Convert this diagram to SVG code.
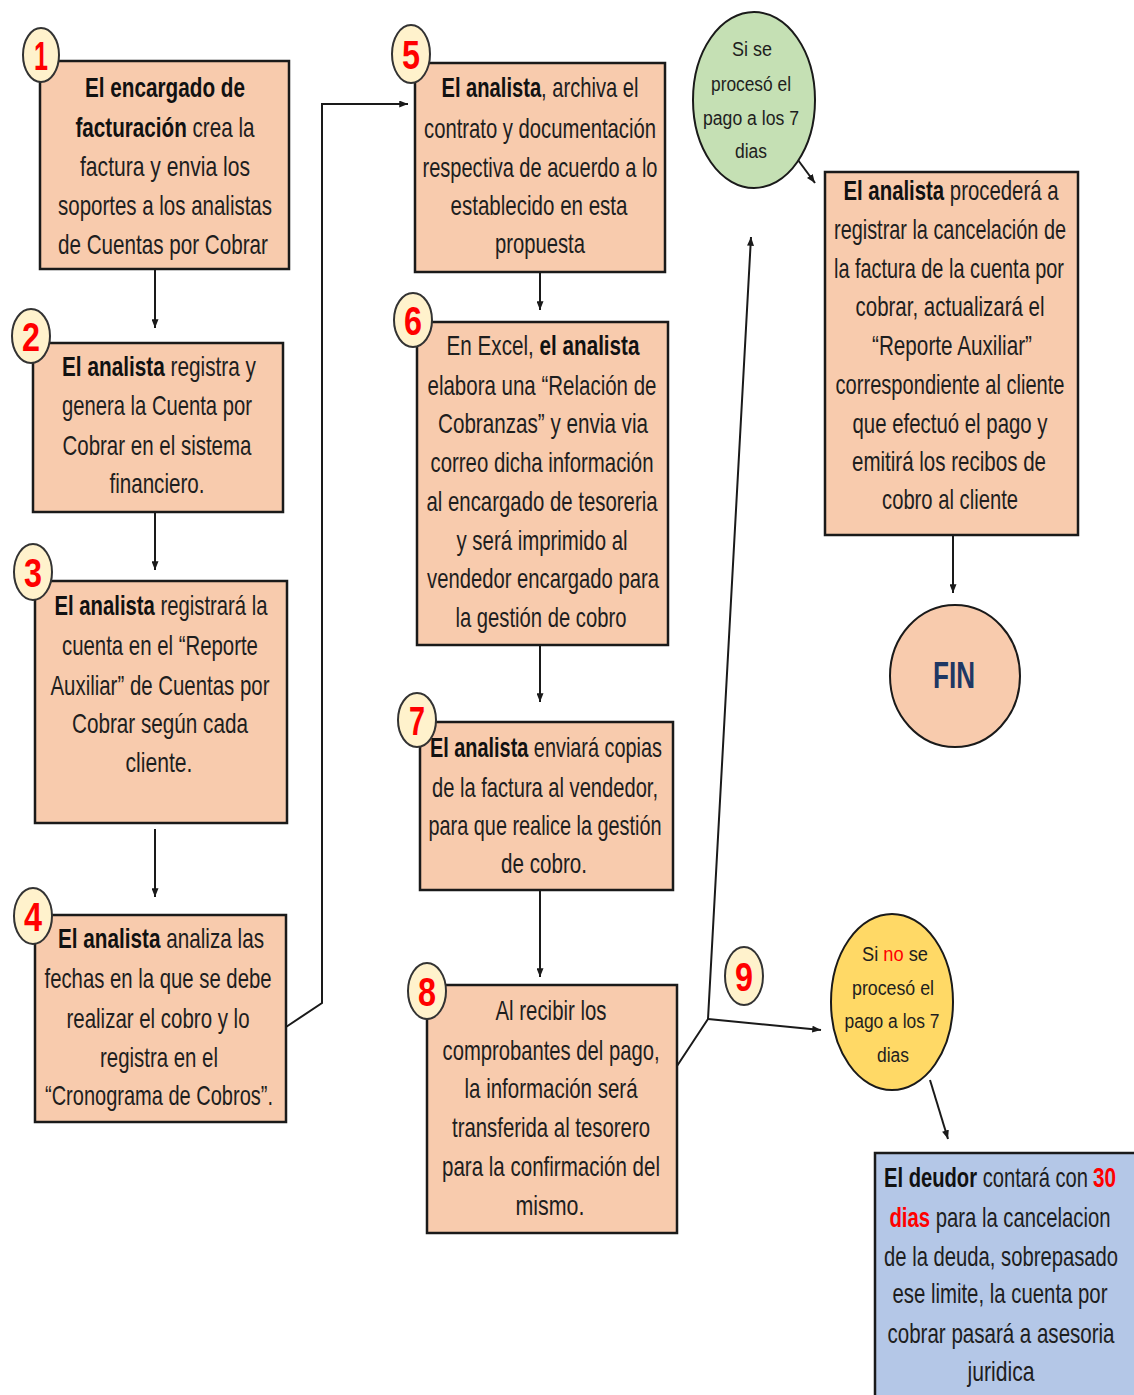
<svg xmlns="http://www.w3.org/2000/svg" width="1134" height="1395" viewBox="0 0 1134 1395">
<defs>
<style>
.box{fill:#F8CBAD;stroke:#1a1a1a;stroke-width:2.5}
.num{fill:#FFF2CC;stroke:#333;stroke-width:2}
.d{font-family:"Liberation Sans",Arial,sans-serif;font-weight:bold;font-size:40px;fill:#FF0000;text-anchor:middle}
.t{font-family:"Liberation Sans",Arial,sans-serif;font-size:28px;fill:#1e1e1e;text-anchor:middle}
.s{font-family:"Liberation Sans",Arial,sans-serif;font-size:20px;fill:#1e1e1e;text-anchor:middle}
.st{text-anchor:start}
.b{font-weight:bold;fill:#111}
.r{fill:#FF0000;font-weight:bold}
.rn{fill:#FF0000}
.c{fill:none;stroke:#1a1a1a;stroke-width:2}
</style>
<marker id="ah" viewBox="0 0 10 8" refX="10" refY="4" markerWidth="9" markerHeight="7" markerUnits="userSpaceOnUse" orient="auto"><path d="M0,0 L10,4 L0,8 z" fill="#1a1a1a"/></marker>
</defs>
<rect width="1134" height="1395" fill="#fff"/>

<g id="connectors">
<line class="c" x1="155" y1="269" x2="155" y2="328" marker-end="url(#ah)"/>
<line class="c" x1="155" y1="512" x2="155" y2="570" marker-end="url(#ah)"/>
<line class="c" x1="155" y1="829" x2="155" y2="897" marker-end="url(#ah)"/>
<polyline class="c" points="286,1027 322,1003 322,104 408,104" marker-end="url(#ah)"/>
<line class="c" x1="540" y1="272" x2="540" y2="310" marker-end="url(#ah)"/>
<line class="c" x1="540" y1="645" x2="540" y2="702" marker-end="url(#ah)"/>
<line class="c" x1="540" y1="890" x2="540" y2="977" marker-end="url(#ah)"/>
<polyline class="c" points="677,1066 708,1019 751,237" marker-end="url(#ah)"/>
<line class="c" x1="708" y1="1019" x2="821" y2="1030" marker-end="url(#ah)"/>
<line class="c" x1="798" y1="160" x2="815" y2="183" marker-end="url(#ah)"/>
<line class="c" x1="953" y1="535" x2="953" y2="593" marker-end="url(#ah)"/>
<line class="c" x1="930" y1="1080" x2="948" y2="1139" marker-end="url(#ah)"/>
</g>

<g id="n1">
<rect class="box" x="40" y="61" width="249" height="208"/>
<g transform="scale(0.75 1)">
<text class="t" x="220" y="97" textLength="213.3" lengthAdjust="spacingAndGlyphs"><tspan class="b">El encargado de</tspan></text>
<text class="t" x="220" y="137" textLength="238.7" lengthAdjust="spacingAndGlyphs"><tspan class="b">facturación</tspan> crea la</text>
<text class="t" x="220" y="176" textLength="226.7" lengthAdjust="spacingAndGlyphs">factura y envia los</text>
<text class="t" x="220" y="215" textLength="285.3" lengthAdjust="spacingAndGlyphs">soportes a los analistas</text>
<text class="t" x="217.3" y="254" textLength="280" lengthAdjust="spacingAndGlyphs">de Cuentas por Cobrar</text>
</g>
<ellipse class="num" cx="41" cy="55" rx="18" ry="27"/>
<g transform="scale(0.6 1)"><text class="d" x="68.3" y="70" textLength="23.3" lengthAdjust="spacingAndGlyphs">1</text></g>
</g>

<g id="n2">
<rect class="box" x="33" y="343" width="250" height="169"/>
<g transform="scale(0.75 1)">
<text class="t" x="212" y="376" textLength="258.7" lengthAdjust="spacingAndGlyphs"><tspan class="b">El analista</tspan> registra y</text>
<text class="t" x="209.3" y="415" textLength="253.3" lengthAdjust="spacingAndGlyphs">genera la Cuenta por</text>
<text class="t" x="209.3" y="455" textLength="252" lengthAdjust="spacingAndGlyphs">Cobrar en el sistema</text>
<text class="t" x="209.3" y="493" textLength="126.7" lengthAdjust="spacingAndGlyphs">financiero.</text>
</g>
<ellipse class="num" cx="31" cy="336" rx="19" ry="27"/>
<g transform="scale(0.6 1)"><text class="d" x="51.7" y="351" textLength="30" lengthAdjust="spacingAndGlyphs">2</text></g>
</g>

<g id="n3">
<rect class="box" x="35" y="581" width="252" height="242"/>
<g transform="scale(0.75 1)">
<text class="t" x="214.7" y="615" textLength="284" lengthAdjust="spacingAndGlyphs"><tspan class="b">El analista</tspan> registrará la</text>
<text class="t" x="213.3" y="655" textLength="261.3" lengthAdjust="spacingAndGlyphs">cuenta en el “Reporte</text>
<text class="t" x="213.3" y="695" textLength="292" lengthAdjust="spacingAndGlyphs">Auxiliar” de Cuentas por</text>
<text class="t" x="213.3" y="733" textLength="234.7" lengthAdjust="spacingAndGlyphs">Cobrar según cada</text>
<text class="t" x="212" y="772" textLength="89.3" lengthAdjust="spacingAndGlyphs">cliente.</text>
</g>
<ellipse class="num" cx="33" cy="572" rx="19" ry="28"/>
<g transform="scale(0.6 1)"><text class="d" x="55" y="587" textLength="30" lengthAdjust="spacingAndGlyphs">3</text></g>
</g>

<g id="n4">
<rect class="box" x="35" y="915" width="251" height="207"/>
<g transform="scale(0.75 1)">
<text class="t" x="214.7" y="948" textLength="274.7" lengthAdjust="spacingAndGlyphs"><tspan class="b">El analista</tspan> analiza las</text>
<text class="t" x="210.7" y="988" textLength="302.7" lengthAdjust="spacingAndGlyphs">fechas en la que se debe</text>
<text class="t" x="210.7" y="1028" textLength="244" lengthAdjust="spacingAndGlyphs">realizar el cobro y lo</text>
<text class="t" x="212" y="1067" textLength="157.3" lengthAdjust="spacingAndGlyphs">registra en el</text>
<text class="t" x="212" y="1105" textLength="304" lengthAdjust="spacingAndGlyphs">“Cronograma de Cobros”.</text>
</g>
<ellipse class="num" cx="33" cy="916" rx="19" ry="28"/>
<g transform="scale(0.6 1)"><text class="d" x="55" y="931" textLength="30" lengthAdjust="spacingAndGlyphs">4</text></g>
</g>

<g id="n5">
<rect class="box" x="415" y="63" width="250" height="209"/>
<g transform="scale(0.75 1)">
<text class="t" x="720" y="97" textLength="262.7" lengthAdjust="spacingAndGlyphs"><tspan class="b">El analista</tspan>, archiva el</text>
<text class="t" x="720" y="138" textLength="309.3" lengthAdjust="spacingAndGlyphs">contrato y documentación</text>
<text class="t" x="720" y="177" textLength="313.3" lengthAdjust="spacingAndGlyphs">respectiva de acuerdo a lo</text>
<text class="t" x="718.7" y="215" textLength="236" lengthAdjust="spacingAndGlyphs">establecido en esta</text>
<text class="t" x="720" y="253" textLength="120" lengthAdjust="spacingAndGlyphs">propuesta</text>
</g>
<ellipse class="num" cx="411" cy="54" rx="19" ry="29"/>
<g transform="scale(0.6 1)"><text class="d" x="685" y="69" textLength="30" lengthAdjust="spacingAndGlyphs">5</text></g>
</g>

<g id="n6">
<rect class="box" x="417" y="322" width="251" height="323"/>
<g transform="scale(0.75 1)">
<text class="t" x="724" y="355" textLength="257.3" lengthAdjust="spacingAndGlyphs">En Excel, <tspan class="b">el analista</tspan></text>
<text class="t" x="722.7" y="395" textLength="305.3" lengthAdjust="spacingAndGlyphs">elabora una “Relación de</text>
<text class="t" x="724" y="433" textLength="280" lengthAdjust="spacingAndGlyphs">Cobranzas” y envia via</text>
<text class="t" x="722.7" y="472" textLength="297.3" lengthAdjust="spacingAndGlyphs">correo dicha información</text>
<text class="t" x="722.7" y="511" textLength="308" lengthAdjust="spacingAndGlyphs">al encargado de tesoreria</text>
<text class="t" x="722.7" y="550" textLength="228" lengthAdjust="spacingAndGlyphs">y será imprimido al</text>
<text class="t" x="724" y="588" textLength="309.3" lengthAdjust="spacingAndGlyphs">vendedor encargado para</text>
<text class="t" x="721.3" y="627" textLength="228" lengthAdjust="spacingAndGlyphs">la gestión de cobro</text>
</g>
<ellipse class="num" cx="413" cy="320" rx="19" ry="27"/>
<g transform="scale(0.6 1)"><text class="d" x="688.3" y="335" textLength="30" lengthAdjust="spacingAndGlyphs">6</text></g>
</g>

<g id="n7">
<rect class="box" x="420" y="722" width="253" height="168"/>
<g transform="scale(0.75 1)">
<text class="t" x="728" y="757" textLength="309.3" lengthAdjust="spacingAndGlyphs"><tspan class="b">El analista</tspan> enviará copias</text>
<text class="t" x="726.7" y="797" textLength="301.3" lengthAdjust="spacingAndGlyphs">de la factura al vendedor,</text>
<text class="t" x="726.7" y="835" textLength="310.7" lengthAdjust="spacingAndGlyphs">para que realice la gestión</text>
<text class="t" x="725.3" y="873" textLength="114.7" lengthAdjust="spacingAndGlyphs">de cobro.</text>
</g>
<ellipse class="num" cx="417" cy="720" rx="19" ry="27"/>
<g transform="scale(0.6 1)"><text class="d" x="695" y="735" textLength="26.7" lengthAdjust="spacingAndGlyphs">7</text></g>
</g>

<g id="n8">
<rect class="box" x="427" y="985" width="250" height="248"/>
<g transform="scale(0.75 1)">
<text class="t" x="734.7" y="1020" textLength="148" lengthAdjust="spacingAndGlyphs">Al recibir los</text>
<text class="t" x="734.7" y="1060" textLength="289.3" lengthAdjust="spacingAndGlyphs">comprobantes del pago,</text>
<text class="t" x="734.7" y="1098" textLength="230.7" lengthAdjust="spacingAndGlyphs">la información será</text>
<text class="t" x="734.7" y="1137" textLength="264" lengthAdjust="spacingAndGlyphs">transferida al tesorero</text>
<text class="t" x="734.7" y="1176" textLength="290.7" lengthAdjust="spacingAndGlyphs">para la confirmación del</text>
<text class="t" x="733.3" y="1215" textLength="92" lengthAdjust="spacingAndGlyphs">mismo.</text>
</g>
<ellipse class="num" cx="427" cy="991" rx="19" ry="28"/>
<g transform="scale(0.6 1)"><text class="d" x="711.7" y="1006" textLength="30" lengthAdjust="spacingAndGlyphs">8</text></g>
</g>

<g id="n9">
<ellipse class="num" cx="744" cy="976" rx="19" ry="29"/>
<g transform="scale(0.6 1)"><text class="d" x="1240" y="991" textLength="30" lengthAdjust="spacingAndGlyphs">9</text></g>
</g>

<g id="si">
<ellipse cx="754" cy="100" rx="61" ry="88" fill="#C5E0B4" stroke="#1a1a1a" stroke-width="2"/>
<g transform="scale(0.8 1)">
<text class="s" x="940" y="56" textLength="50" lengthAdjust="spacingAndGlyphs">Si se</text>
<text class="s" x="938.75" y="91" textLength="100" lengthAdjust="spacingAndGlyphs">procesó  el</text>
<text class="s" x="938.75" y="125" textLength="120" lengthAdjust="spacingAndGlyphs">pago  a los 7</text>
<text class="s" x="938.75" y="158" textLength="40" lengthAdjust="spacingAndGlyphs">dias</text>
</g>
</g>

<g id="registrar">
<rect class="box" x="825" y="172" width="253" height="363"/>
<g transform="scale(0.75 1)">
<text class="t" x="1268" y="200" textLength="286.7" lengthAdjust="spacingAndGlyphs"><tspan class="b">El analista</tspan> procederá a</text>
<text class="t" x="1266.7" y="239" textLength="309.3" lengthAdjust="spacingAndGlyphs">registrar la cancelación de</text>
<text class="t" x="1265.3" y="278" textLength="306.7" lengthAdjust="spacingAndGlyphs">la factura de la cuenta por</text>
<text class="t" x="1266.7" y="316" textLength="252" lengthAdjust="spacingAndGlyphs">cobrar, actualizará el</text>
<text class="t" x="1269.3" y="355" textLength="213.3" lengthAdjust="spacingAndGlyphs">“Reporte Auxiliar”</text>
<text class="t" x="1266.7" y="394" textLength="305.3" lengthAdjust="spacingAndGlyphs">correspondiente al cliente</text>
<text class="t" x="1266.7" y="433" textLength="260" lengthAdjust="spacingAndGlyphs">que efectuó el pago y</text>
<text class="t" x="1265.3" y="471" textLength="258.7" lengthAdjust="spacingAndGlyphs">emitirá los recibos de</text>
<text class="t" x="1266.7" y="509" textLength="181.3" lengthAdjust="spacingAndGlyphs">cobro al cliente</text>
</g>
</g>

<g id="fin">
<ellipse cx="955" cy="676" rx="65" ry="71" fill="#F8CBAD" stroke="#1a1a1a" stroke-width="2"/>
<g transform="scale(0.6 1)"><text x="1590" y="688" font-family="Liberation Sans, Arial, sans-serif" font-weight="bold" font-size="37" fill="#1F3864" text-anchor="middle" textLength="70" lengthAdjust="spacingAndGlyphs">FIN</text></g>
</g>

<g id="sino">
<ellipse cx="892" cy="1002" rx="61" ry="88" fill="#FFD966" stroke="#1a1a1a" stroke-width="2"/>
<g transform="scale(0.8 1)">
<text class="s" x="1118.75" y="961" textLength="82.5" lengthAdjust="spacingAndGlyphs">Si <tspan class="rn">no</tspan> se</text>
<text class="s" x="1116.25" y="995" textLength="102.5" lengthAdjust="spacingAndGlyphs">procesó  el</text>
<text class="s" x="1115" y="1028" textLength="118.75" lengthAdjust="spacingAndGlyphs">pago  a los 7</text>
<text class="s" x="1116.25" y="1062" textLength="40" lengthAdjust="spacingAndGlyphs">dias</text>
</g>
</g>

<g id="deudor">
<rect x="875" y="1153" width="270" height="260" fill="#B4C7E7" stroke="#1a1a1a" stroke-width="2.5"/>
<g transform="scale(0.75 1)">
<text class="t st" x="1178.7" y="1187" textLength="272" lengthAdjust="spacingAndGlyphs"><tspan class="b">El deudor</tspan> contará con</text>
<text class="t st r" x="1457.3" y="1187" textLength="30.7" lengthAdjust="spacingAndGlyphs">30</text>
<text class="t" x="1333.3" y="1227" textLength="294.7" lengthAdjust="spacingAndGlyphs"><tspan class="r">dias</tspan> para la cancelacion</text>
<text class="t" x="1334.7" y="1266" textLength="312" lengthAdjust="spacingAndGlyphs">de la deuda, sobrepasado</text>
<text class="t" x="1333.3" y="1303" textLength="286.7" lengthAdjust="spacingAndGlyphs">ese limite, la cuenta por</text>
<text class="t" x="1334.7" y="1343" textLength="302.7" lengthAdjust="spacingAndGlyphs">cobrar pasará a asesoria</text>
<text class="t" x="1334.7" y="1381" textLength="89.3" lengthAdjust="spacingAndGlyphs">juridica</text>
</g>
</g>
</svg>
